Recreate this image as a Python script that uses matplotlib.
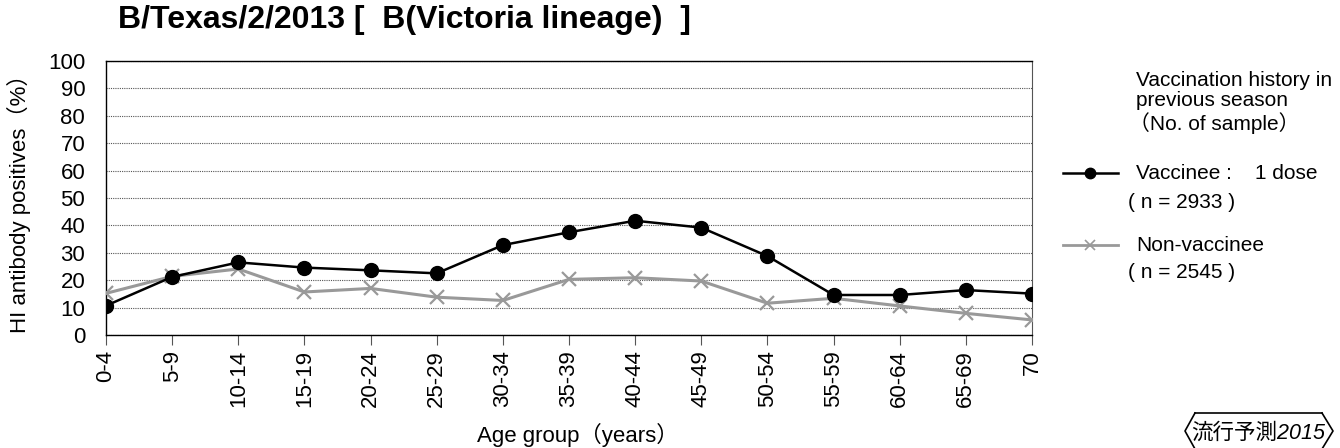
import matplotlib
matplotlib.use('Agg')
import matplotlib.pyplot as plt
from matplotlib.lines import Line2D

plt.rcParams['font.family'] = ['Liberation Sans', 'Noto Sans CJK JP', 'DejaVu Sans']

age_groups = ['0-4', '5-9', '10-14', '15-19', '20-24', '25-29', '30-34', '35-39',
              '40-44', '45-49', '50-54', '55-59', '60-64', '65-69', '70']
vaccinee = [10.7, 21.2, 26.5, 24.6, 23.6, 22.5, 32.8, 37.5,
            41.7, 39.2, 28.8, 14.6, 14.6, 16.4, 15.1]
non_vaccinee = [15.2, 21.4, 24.1, 15.7, 17.0, 13.8, 12.6, 20.3,
                20.9, 19.7, 11.6, 13.4, 10.6, 7.9, 5.5]
yticks = list(range(0, 101, 10))

W, H = 1340, 448


def fx(px):
    return px / W


def fy(py):
    return 1 - py / H


fig = plt.figure(figsize=(13.4, 4.48), dpi=100)
ax = fig.add_axes([fx(106), fy(335), (1032 - 106) / W, (335 - 61) / H])

x = range(len(age_groups))
ax.plot(x, vaccinee, color='black', lw=1.8, marker='o', markersize=10, zorder=4)
ax.plot(x, non_vaccinee, color='#999999', lw=2.2, marker='x', markersize=9.5,
        markeredgewidth=1.6, zorder=3)

ax.set_xlim(0, len(age_groups) - 1)
ax.set_ylim(0, 100)
ax.set_yticks(yticks)
ax.set_xticks(list(x))
ax.set_xticklabels(age_groups, rotation=90, fontsize=16)
ax.tick_params(axis='y', length=0, labelsize=16, pad=15)
ax.tick_params(axis='x', length=7, width=0.8, color='#555555', pad=4, direction='out')
ax.yaxis.grid(True, color='#555555', linestyle=(0, (1, 1)), linewidth=0.8)
ax.set_axisbelow(True)
for s in ['left', 'bottom', 'top']:
    ax.spines[s].set_color('black')
    ax.spines[s].set_linewidth(1.0)
ax.spines['right'].set_color('#555555')

fig.text(fx(19), fy(198), 'HI antibody positives（%）', fontsize=16, rotation=90,
         ha='center', va='center')
fig.text(fx(477), fy(435), 'Age group（years）', fontsize=16, ha='left', va='center')
fig.text(fx(118), fy(20), 'B/Texas/2/2013 [  B(Victoria lineage)  ]',
         fontsize=23, fontweight='bold', ha='left', va='center')

# legend
fig.text(fx(1136), fy(80), 'Vaccination history in', fontsize=15, va='center')
fig.text(fx(1136), fy(101), 'previous season', fontsize=15, va='center')
fig.text(fx(1129), fy(123), '（No. of sample）', fontsize=15, va='center')
fig.add_artist(Line2D([fx(1063), fx(1090), fx(1118)], [fy(173)] * 3, color='black', lw=1.8,
                      marker='o', markersize=7.5, markevery=[1]))
fig.text(fx(1136), fy(173), 'Vaccinee :    1 dose', fontsize=15, va='center')
fig.text(fx(1128), fy(202), '( n = 2933 )', fontsize=15, va='center')
fig.add_artist(Line2D([fx(1063), fx(1090), fx(1118)], [fy(245)] * 3, color='#999999', lw=2.0,
                      marker='x', markersize=7, markeredgewidth=1.2, markevery=[1]))
fig.text(fx(1136), fy(245), 'Non-vaccinee', fontsize=15, va='center')
fig.text(fx(1128), fy(273), '( n = 2545 )', fontsize=15, va='center')

# watermark box
pts_y = [413, 431, 449]
fig.add_artist(Line2D([fx(p) for p in [1195, 1185, 1195]], [fy(p) for p in pts_y], color='black', lw=1.2))
fig.add_artist(Line2D([fx(p) for p in [1322, 1333, 1322]], [fy(p) for p in pts_y], color='black', lw=1.2))
fig.add_artist(Line2D([fx(1195), fx(1322)], [fy(413)] * 2, color='black', lw=1.2))
fig.text(fx(1258), fy(433), '流行予測2015', fontsize=15.5, style='italic',
         ha='center', va='center')

fig.savefig('out.png', dpi=100)
